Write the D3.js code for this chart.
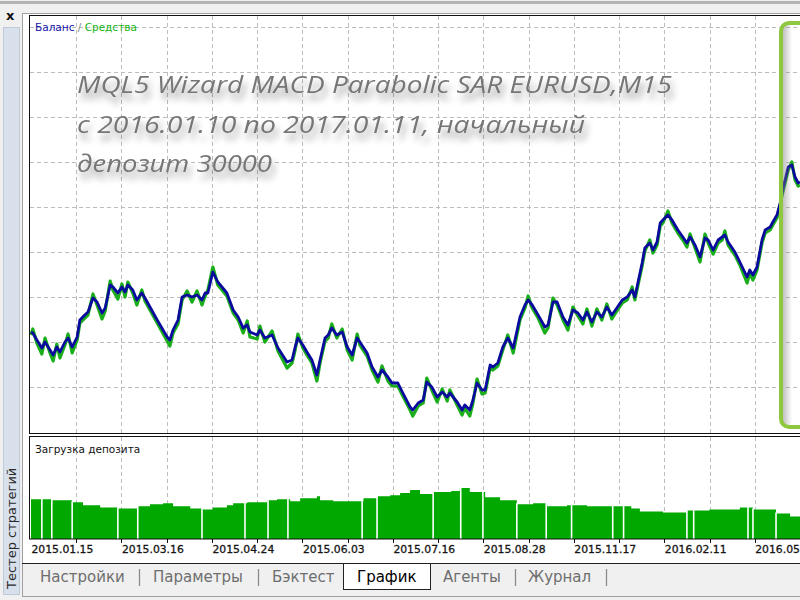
<!DOCTYPE html>
<html><head><meta charset="utf-8">
<script src="https://cdn.jsdelivr.net/npm/d3@7"></script>
<style>html,body{margin:0;padding:0;background:#f0f0f0;overflow:hidden}</style>
</head><body><svg id="c" width="800" height="600"></svg>
<script>
// ---------- DATA ----------
const tradeIdx = [0,0.4,1.3,2.4,3.1,4.2,4.9,5.7,6.4,7.5,8.2,9.1,10.2,10.8,11.9,12.6,13.7,14.6,15.7,16.4,17.5,18.1,19.2,20.1,20.8,21.4,22.5,23.4,24.5,25.2,27.9,30.1,30.7,31.4,32.5,33.4,34.5,35.6,36.7,37.8,38.5,39.1,40.2,41.3,43.3,44.7,45.8,46.9,47.8,48.4,50.0,50.6,51.7,53.3,54.6,56.6,57.7,58.4,59.0,60.1,61.0,62.1,63.2,63.9,65.0,65.7,66.5,67.6,68.8,69.9,71.0,72.1,72.7,74.3,75.4,76.7,77.6,78.9,79.8,81.1,82.2,83.8,84.4,85.6,86.7,87.5,88.6,89.8,90.9,92.0,92.6,94.2,95.3,95.9,97.0,97.7,98.6,99.7,100.4,101.5,102.1,103.2,104.3,105.4,106.6,108.1,109.2,109.9,110.8,112.1,113.6,114.3,115.4,116.3,117.6,118.7,119.8,120.9,122.0,122.9,124.0,125.1,126.2,127.3,128.4,129.5,130.7,131.8,132.9,133.5,134.2,135.1,135.7,136.8,137.5,138.4,139.1,139.7,140.8,141.7,143.0,144.1,145.0,145.7,146.8,147.9,149.0,149.7,150.8,151.9,152.8,153.4,154.1,155.6,156.7,158.3,158.9,159.6,160.5,161.6,162.3,163.4,164.0,164.9,165.6,166.0,166.7,167.4,168.2,168.9,169.6,170.0];
const balance = [30000,29980,29840,29680,29800,29640,29540,29700,29600,29800,29880,29700,29900,30240,30340,30400,30680,30600,30380,30480,30940,30900,30780,30900,30800,30940,30840,30640,30780,30680,30240,29900,29840,30040,30240,30700,30740,30700,30740,30640,30780,30780,31200,31000,30780,30440,30300,30080,30140,30000,29940,30040,29880,29940,29680,29400,29440,29700,29880,29740,29600,29440,29140,29440,29880,29940,30080,29940,30000,29700,29540,29880,29800,29580,29300,29100,29240,29100,28980,28980,28780,28500,28440,28580,28640,29000,28900,28700,28800,28700,28780,28600,28440,28540,28440,28640,28980,28840,28840,29340,29300,29380,29700,29880,29680,30300,30540,30640,30540,30340,30100,30140,30600,30600,30300,30140,30440,30380,30240,30400,30200,30400,30300,30500,30340,30480,30640,30700,30840,30700,31000,31380,31680,31780,31640,31800,32180,32240,32340,32240,32040,31900,31780,31900,31740,31500,31880,31840,31640,31840,31900,31940,31800,31600,31400,31100,31240,31140,31300,31840,32040,32100,32200,32340,32580,32780,33040,33300,33340,33100,32980,33000];
const equity = [29940,30060,29780,29560,29880,29580,29420,29760,29480,29740,29960,29580,29840,30180,30280,30340,30760,30540,30260,30420,31020,30840,30660,30960,30700,31000,30780,30540,30840,30620,30180,29820,29720,29980,30160,30640,30820,30600,30820,30540,30720,30840,31300,30940,30720,30380,30240,29980,30220,29900,29860,30120,29800,30020,29620,29280,29380,29640,29960,29680,29540,29380,29020,29380,29820,29880,30160,29880,30060,29640,29440,29960,29740,29520,29240,29000,29320,29020,28920,28920,28720,28440,28320,28520,28580,29080,28840,28600,28860,28620,28840,28540,28340,28480,28320,28580,29060,28760,28780,29280,29240,29320,29640,29940,29580,30240,30480,30720,30480,30280,29980,30080,30680,30540,30240,30040,30500,30320,30160,30460,30120,30460,30240,30560,30260,30420,30580,30640,30900,30640,30940,31320,31620,31840,31580,31740,32120,32180,32420,32180,31980,31840,31700,31960,31680,31400,31960,31780,31560,31780,31840,32020,31740,31540,31340,30980,31180,31040,31240,31780,31980,32040,32140,32280,32520,32720,32980,33240,33400,33040,32920,32940];
const loadIdx = [0,4.6,9.1,11.5,15.3,19.2,23.6,26.3,29.2,31.4,35.2,38.0,40.2,43.3,44.7,47.8,52.2,54.4,57.3,59.5,63.2,63.9,66.8,73.5,76.5,79.4,81.6,83.8,86.0,88.9,92.9,94.8,97.0,100.4,103.7,107.4,111.0,114.1,118.5,122.9,130.0,132.7,134.6,139.7,145.0,150.0,156.7,159.6,164.7,167.8,170];
const loadPct = [39,38,36,33,31,30,32,34,35,32,30,29,31,33,35,36,38,39,37,40,42,38,37,40,42,43,45,48,44,46,47,50,46,41,38,34,35,32,33,32,32,30,27,26,28,29,31,29,25,22,21];
const zeroLoadIdx = [2.4,4.6,9.1,19.2,23.6,37.8,47.3,52.4,56.8,73.2,76.5,88.9,95.0,99.9,107.4,113.9,119.5,128.6,131.0,145.0,146.5,158.5,159.6,164.7];
const xTickIdx = [0,20,40,60,80,100,120,140,160];
const xTickLabels = ['2015.01.15','2015.03.16','2015.04.24','2015.06.03','2015.07.16','2015.08.28','2015.11.17','2016.02.11','2016.05'];
const xGridIdx = [10,20,30,40,50,60,70,80,90,100,110,120,130,140,150,160,170];
const yGridVals = [28900,29800,30700,31600,32500,33400,34300,35200,36100];
const titleLines = ['MQL5 Wizard MACD Parabolic SAR EURUSD,M15','с 2016.01.10 по 2017.01.11, начальный','депозит 30000'];
const tabs = ['Настройки','Параметры','Бэктест','График','Агенты','Журнал'];

// ---------- SETUP ----------
const W = 800, H = 600;
const svg = d3.select('#c');
const defs = svg.append('defs');
const x = d3.scaleLinear().domain([0,170]).range([31,800]);
const y = d3.scaleLinear().domain([28000,36100]).range([432,27]);
const yL = d3.scaleLinear().domain([0,100]).range([539,437]);

const f = defs.append('filter').attr('id','tsh').attr('x','-5%').attr('y','-40%').attr('width','115%').attr('height','220%');
f.append('feGaussianBlur').attr('in','SourceAlpha').attr('stdDeviation',3.5).attr('result','b');
f.append('feOffset').attr('in','b').attr('dx',3).attr('dy',7).attr('result','o');
f.append('feComponentTransfer').attr('in','o').attr('result','oo').append('feFuncA').attr('type','linear').attr('slope',0.4);
const fm = f.append('feMerge'); fm.append('feMergeNode').attr('in','oo'); fm.append('feMergeNode').attr('in','SourceGraphic');

const g1 = defs.append('linearGradient').attr('id','insh').attr('x1','0').attr('x2','1').attr('y1','0').attr('y2','0');
g1.append('stop').attr('offset','0').attr('stop-color','#808080').attr('stop-opacity',0.55);
g1.append('stop').attr('offset','1').attr('stop-color','#808080').attr('stop-opacity',0);

defs.append('clipPath').attr('id','cm').append('rect').attr('x',30).attr('y',16).attr('width',770).attr('height',417);
defs.append('clipPath').attr('id','cs').append('rect').attr('x',30).attr('y',437).attr('width',770).attr('height',102);

// ---------- FRAME ----------
svg.append('rect').attr('width',W).attr('height',H).attr('fill','#f0f0f0');
svg.append('rect').attr('x',0).attr('y',1).attr('width',W).attr('height',3).attr('fill','#b3b3b3');
svg.append('text').attr('x',6).attr('y',20).text('x')
  .style('font','bold 13px "DejaVu Sans"').attr('fill','#111');
svg.append('rect').attr('x',3.5).attr('y',27.5).attr('width',16).attr('height',567)
  .attr('fill','#d7e0eb').attr('stroke','#bfcad8');
svg.append('text').attr('transform','translate(16,589) rotate(-90)').text('Тестер стратегий')
  .style('font','13px "DejaVu Sans"').attr('fill','#2a2a2a');

svg.append('rect').attr('x',22.5).attr('y',13.5).attr('width',800).attr('height',583)
  .attr('fill','#f0f0f0').attr('stroke','#a0a0a0');
svg.append('rect').attr('x',23).attr('y',14).attr('width',800).attr('height',549.5).attr('fill','#fff');

// ---------- MAIN CHART ----------
const main = svg.append('g').attr('clip-path','url(#cm)');
main.selectAll('.hg').data(yGridVals).join('line')
  .attr('x1',30).attr('x2',800).attr('y1',d=>Math.round(y(d))+0.5).attr('y2',d=>Math.round(y(d))+0.5)
  .attr('stroke','#bdbdbd').attr('stroke-dasharray','4,3');
main.selectAll('.vg').data(xGridIdx).join('line')
  .attr('x1',d=>Math.round(x(d))+0.5).attr('x2',d=>Math.round(x(d))+0.5).attr('y1',16).attr('y2',433)
  .attr('stroke','#bdbdbd').attr('stroke-dasharray','4,3');

// title
titleLines.forEach((t,i)=>{
  main.append('text').attr('x',77).attr('y',[93,133,172][i]).text(t)
    .attr('textLength',[595,508,195][i]).attr('lengthAdjust','spacingAndGlyphs')
    .style('font','italic 24px "Open Sans"').attr('fill','#767676').attr('filter','url(#tsh)');
});

const pts = tradeIdx.map((d,i)=>({i:d,b:balance[i],e:equity[i]}));
main.append('path').datum(pts)
  .attr('d',d3.line().x(d=>x(d.i)).y(d=>y(d.e)))
  .attr('fill','none').attr('stroke','#1aae1a').attr('stroke-width',3.2).attr('stroke-linejoin','round');
main.append('path').datum(pts)
  .attr('d',d3.line().x(d=>x(d.i)).y(d=>y(d.b)))
  .attr('fill','none').attr('stroke','#0a0a9e').attr('stroke-width',2.8).attr('stroke-linejoin','round');

// legend
const lg = svg.append('text').attr('x',35).attr('y',31).style('font','10.5px "DejaVu Sans"');
lg.append('tspan').text('Баланс').attr('fill','#1414a8');
lg.append('tspan').text(' / ').attr('fill','#888');
lg.append('tspan').text('Средства').attr('fill','#14b414');

// highlight box
svg.append('rect').attr('x',782).attr('y',24).attr('width',10).attr('height',402).attr('fill','url(#insh)');
svg.append('rect').attr('x',781).attr('y',23).attr('width',40).attr('height',404).attr('rx',8)
  .attr('fill','none').attr('stroke','#8dc83f').attr('stroke-width',4);

// borders
svg.append('rect').attr('x',29.5).attr('y',15.5).attr('width',800).attr('height',418).attr('fill','none').attr('stroke','#111');

// ---------- SUB CHART ----------
const sub = svg.append('g').attr('clip-path','url(#cs)');
sub.selectAll('.vg2').data(xGridIdx).join('line')
  .attr('x1',d=>Math.round(x(d))+0.5).attr('x2',d=>Math.round(x(d))+0.5).attr('y1',437).attr('y2',539)
  .attr('stroke','#bdbdbd').attr('stroke-dasharray','4,3');
const lpts = loadIdx.map((d,i)=>({i:d,v:loadPct[i]}));
sub.append('path').datum(lpts)
  .attr('d',d3.area().curve(d3.curveStepAfter).x(d=>x(d.i)).y0(yL(0)).y1(d=>yL(d.v)))
  .attr('fill','#00a800');
const bis = d3.bisector(d=>d).right;
sub.selectAll('.gap').data(zeroLoadIdx).join('line')
  .attr('x1',d=>x(d)).attr('x2',d=>x(d)).attr('y1',yL(0))
  .attr('y2',d=>yL(loadPct[Math.max(0,bis(loadIdx,d)-1)])-1)
  .attr('stroke','#ffffff').attr('stroke-width',1.6);
svg.append('text').attr('x',35).attr('y',453).text('Загрузка депозита')
  .style('font','10.5px "DejaVu Sans"').attr('fill','#111');
svg.append('rect').attr('x',29.5).attr('y',436.5).attr('width',800).attr('height',102.5).attr('fill','none').attr('stroke','#111');
svg.selectAll('.tk').data(xGridIdx).join('line')
  .attr('x1',d=>Math.round(x(d))+0.5).attr('x2',d=>Math.round(x(d))+0.5).attr('y1',539).attr('y2',543)
  .attr('stroke','#111');
svg.selectAll('.tl').data(xTickIdx).join('text')
  .attr('x',d=>x(d)+0.5).attr('y',553).text((d,i)=>xTickLabels[i])
  .style('font','10.8px "DejaVu Sans"').attr('fill','#151515')
  .attr('stroke','#151515').attr('stroke-width',0.3);

// ---------- TABS ----------
svg.append('line').attr('x1',22).attr('x2',800).attr('y1',563.5).attr('y2',563.5).attr('stroke','#222');
svg.append('rect').attr('x',343.5).attr('y',563.5).attr('width',87).attr('height',26).attr('fill','#fff').attr('stroke','#222');
const tabX = [40,153,272,357,443,528];
svg.selectAll('.tab').data(tabs).join('text')
  .attr('x',(d,i)=>tabX[i]).attr('y',582).text(d=>d)
  .style('font','15px "DejaVu Sans"').attr('fill',(d,i)=>i===3?'#000':'#6e6e6e');
svg.selectAll('.sep').data([139,258,515,606]).join('line')
  .attr('x1',d=>d+0.5).attr('x2',d=>d+0.5).attr('y1',569).attr('y2',586)
  .attr('stroke','#8a8a8a').attr('stroke-width',1.3);
</script></body></html>
